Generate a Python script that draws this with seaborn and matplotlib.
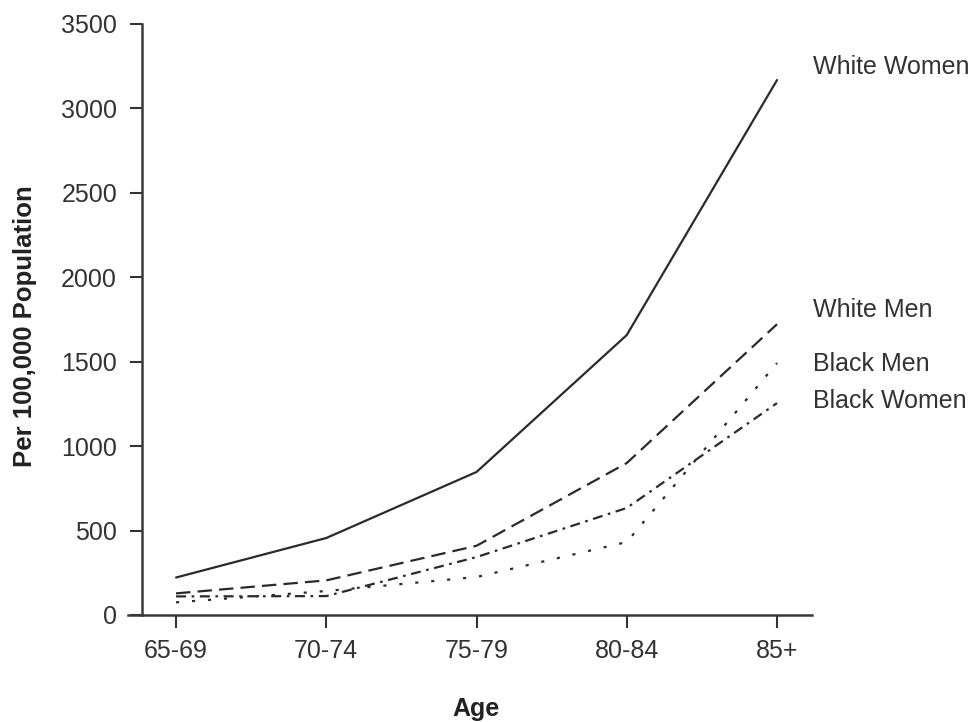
import pandas as pd
import matplotlib
matplotlib.use("Agg")
import matplotlib.pyplot as plt
import seaborn as sns

sns.set_style("ticks")
plt.rcParams['font.family'] = ['Liberation Sans', 'DejaVu Sans']

ages = ["65-69", "70-74", "75-79", "80-84", "85+"]
white_women = [222, 456, 847, 1658, 3168]
white_men = [128, 205, 410, 900, 1722]
black_men = [75, 142, 225, 432, 1492]
black_women = [110, 112, 343, 634, 1255]

series = ["White Women", "White Men", "Black Men", "Black Women"]
values = [white_women, white_men, black_men, black_women]
label_y = [3245, 1806, 1486, 1267]

rows = []
for name, vals in zip(series, values):
    for i, (a, v) in enumerate(zip(ages, vals)):
        rows.append({"pos": i, "Age": a, "rate": v, "group": name})
df = pd.DataFrame(rows)

styles = {
    "White Women": "-",
    "White Men": (0, (6.5, 3.2)),
    "Black Men": (0, (1.4, 5.8)),
    "Black Women": (0, (4.5, 2.5, 1.2, 2.5)),
}

fig = plt.figure(figsize=(9.8, 7.22), dpi=100)
ax = fig.add_axes([0.1306, 0.1482, 0.698, 0.8186])

for name in series:
    sub = df[df["group"] == name]
    sns.lineplot(data=sub, x="pos", y="rate", ax=ax, color="#2a2a2a",
                 linewidth=1.6, linestyle=styles[name], legend=False)

for name, yv in zip(series, label_y):
    ax.text(4.24, yv, name, fontsize=18, color="#333333", va="center",
            ha="left", clip_on=False)

ax.set_xlim(-0.32, 4.233)
ax.set_ylim(0, 3500)
ax.set_xticks(range(len(ages)))
ax.set_xticklabels(ages)
ax.set_yticks(range(0, 3501, 500))
ax.tick_params(axis="both", labelsize=18, colors="#333333", length=9, width=1.5)
ax.tick_params(axis="y", pad=9)
ax.tick_params(axis="x", pad=8)
ax.set_xlabel("Age", fontsize=18, fontweight="bold", color="#222222")
ax.set_ylabel("Per 100,000 Population", fontsize=18.5, fontweight="bold", color="#222222")
ax.xaxis.set_label_coords(0.509, -0.139)
ax.yaxis.set_label_coords(-0.133, 0.489)
sns.despine(ax=ax)
ax.spines["left"].set_position(("data", -0.226))
for s in ["left", "bottom"]:
    ax.spines[s].set_linewidth(1.8)
    ax.spines[s].set_color("#3a3a3a")

fig.savefig("out.png", dpi=100)
